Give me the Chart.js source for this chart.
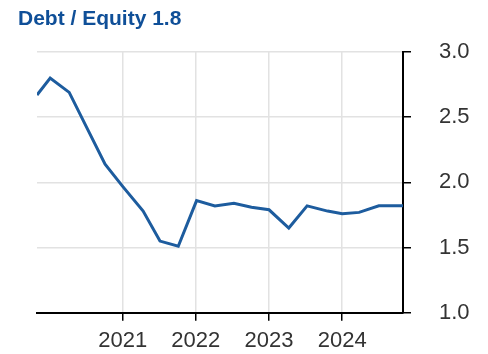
<!DOCTYPE html>
<html lang="en">
  <head>
    <meta charset="UTF-8" />
    <title>Debt / Equity</title>
    <script src="https://cdn.jsdelivr.net/npm/chart.js"></script>
    <style>
      html, body { margin: 0; padding: 0; background: #fff; }
      #wrap { position: relative; width: 488px; height: 354px; }
      #title {
        position: absolute; left: 18px; top: 6px; margin: 0;
        font: bold 21px "Liberation Sans", Arial, sans-serif;
        color: #0f4f98;
      }
      canvas { position: absolute; left: 0; top: 0; }
    </style>
  </head>
  <body>
    <div id="wrap">
      <canvas id="chart" width="488" height="354"></canvas>
      <h1 id="title">Debt / Equity 1.8</h1>
    </div>
    <script>
      // report dates as decimal years, and the debt/equity ratio at each
      const dates = [
        2019.83, 2020.01, 2020.27, 2020.51, 2020.76, 2021.0, 2021.28, 2021.51,
        2021.76, 2022.01, 2022.26, 2022.52, 2022.76, 2023.0, 2023.27, 2023.52,
        2023.8, 2024.0, 2024.23, 2024.5, 2024.83,
      ];
      const ratio = [
        2.67, 2.8, 2.69, 2.42, 2.14, 1.97, 1.78, 1.55, 1.51, 1.86, 1.82, 1.84,
        1.81, 1.79, 1.65, 1.82, 1.78, 1.76, 1.77, 1.82, 1.82,
      ];
      const yearTicks = [2021, 2022, 2023, 2024];
      const ratioTicks = [1.0, 1.5, 2.0, 2.5, 3.0];

      const font = { family: "'Liberation Sans', Arial, sans-serif", size: 22 };

      new Chart(document.getElementById("chart"), {
        type: "line",
        data: {
          datasets: [
            {
              data: dates.map((d, i) => ({ x: d, y: ratio[i] })),
              borderColor: "#1d5c9e",
              borderWidth: 3,
              pointRadius: 0,
              tension: 0,
              fill: false,
            },
          ],
        },
        options: {
          responsive: false,
          animation: false,
          layout: { padding: { top: 52, left: 37, right: 0, bottom: 0 } },
          plugins: { legend: { display: false }, tooltip: { enabled: false } },
          scales: {
            x: {
              type: "linear",
              min: dates[0],
              max: dates[dates.length - 1],
              afterBuildTicks: (s) => {
                s.ticks = yearTicks.map((v) => ({ value: v }));
              },
              afterFit: (s) => {
                s.height = 41;
              },
              grid: { color: "#e2e2e2", lineWidth: 1.5, tickColor: "#000", tickLength: 8 },
              border: { color: "#000", width: 2 },
              ticks: {
                color: "#333",
                font: font,
                padding: 7,
                maxRotation: 0,
                callback: (v) => String(v),
              },
            },
            y: {
              position: "right",
              min: 1,
              max: 3,
              afterBuildTicks: (s) => {
                s.ticks = ratioTicks.map((v) => ({ value: v }));
              },
              afterFit: (s) => {
                s.width = 85;
              },
              grid: { color: "#e2e2e2", lineWidth: 1.5, tickColor: "#000", tickLength: 8 },
              border: { color: "#000", width: 2 },
              ticks: {
                color: "#333",
                font: font,
                padding: 28,
                callback: (v) => v.toFixed(1),
              },
            },
          },
        },
      });
    </script>
  </body>
</html>
